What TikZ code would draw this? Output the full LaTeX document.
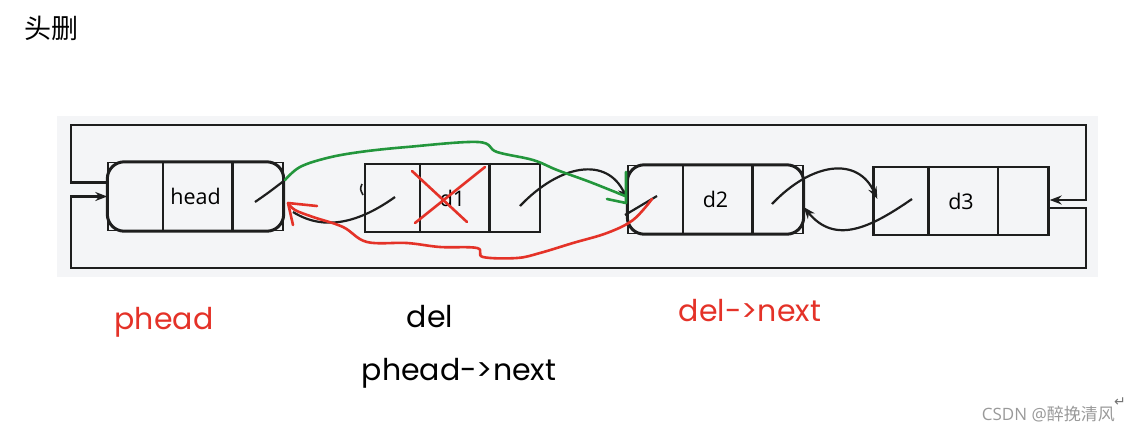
\documentclass[tikz,border=0pt]{standalone}
\usepackage{fontspec}
\setmainfont{Open Sans}
\newfontfamily\geo{Poppins}
\newfontfamily\cjk{Noto Sans CJK SC}
\newfontfamily\dejavu{DejaVu Sans}
\usetikzlibrary{arrows.meta,calc}
\definecolor{panel}{RGB}{244,245,247}
\definecolor{penred}{RGB}{228,50,40}
\definecolor{pengreen}{RGB}{35,150,60}
\definecolor{ink}{RGB}{30,30,30}
\tikzset{
  cellbox/.style={draw=ink, line width=2.4pt, minimum width=175pt, minimum height=68pt, inner sep=0pt, font=\fontsize{21.5}{26}\selectfont},
  thinbox/.style={cellbox, line width=1.4pt},
  link/.style={draw=ink, line width=2.2pt},
  arr/.style={-{Stealth[length=12pt,width=9pt]}},
  redpen/.style={draw=penred, line width=2.6pt, line cap=round, line join=round},
  greenpen/.style={draw=pengreen, line width=2.6pt, line cap=round, line join=round},
  lbl/.style={anchor=base, inner sep=0pt, font=\geo\fontsize{30}{34}\selectfont}
}
\begin{document}
\begin{tikzpicture}[x=1pt,y=-1pt]
\useasboundingbox (0,0) rectangle (1133,432);
\fill[panel] (57,116) rectangle (1098,277);

% title
\node[anchor=base west, inner sep=0pt, font=\cjk\fontsize{27}{32}\selectfont] (title) at (24,38) {头删};

% list nodes
\node[thinbox] (head) at (195.5,196.5) {head};
\node[cellbox] (d1) at (452.5,198) {d1};
\node[thinbox] (d2) at (715.5,199.5) {d2};
\node[cellbox] (d3) at (961,201) {d3};
\draw[line width=3pt, draw=ink, rounded corners=17pt] (head.north west) rectangle (head.south east);
\draw[line width=3pt, draw=ink, rounded corners=17pt] (d2.north west) rectangle (d2.south east);
\foreach \n in {head,d1,d2,d3}{
  \draw[link, line width=2.4pt] ($(\n.north west)!0.317!(\n.north east)$) -- ($(\n.south west)!0.317!(\n.south east)$);
  \draw[link, line width=2.4pt] ($(\n.north west)!0.709!(\n.north east)$) -- ($(\n.south west)!0.709!(\n.south east)$);
}

% frame connectors
\coordinate (tl) at (71,125);
\coordinate (tr) at (1086,125);
\coordinate (bl) at (71,268);
\coordinate (br) at (1086,268);
\draw[link, arr] ($(head.west)+(0,-14)$) -| (tl) -- (tr) |- ($(d3.east)+(0,-1)$);
\draw[link, arr] ($(d3.east)+(0,7)$) -| (br) -- (bl) |- (head.west);

% slash / link curves
\coordinate (hn) at (255,202);
\coordinate (hnend) at (285,180);
\draw[link] (hn) .. controls (268,193) .. (hnend);
\coordinate (d1tick) at (362,184);
\draw[link, line width=1.6pt] (d1tick) .. controls (360,189) .. (363,195);
\coordinate (d1p) at (395,197);
\coordinate (d1pend) at (293,212);
\draw[link] (d1p) .. controls (360,222) and (325,232) .. (d1pend);
\coordinate (d1n) at (520,206);
\draw[link, arr] (d1n) .. controls (560,164) and (607,156) .. (d2.west);
\coordinate (d2p) at (657,196);
\coordinate (d2pend) at (625,215);
\draw[link] (d2p) -- (d2pend);
\coordinate (d2n) at (772,204);
\draw[link, arr] (d2n) .. controls (812,162) and (858,156) .. ($(d3.west)+(5,-2)$);
\coordinate (d3p) at (912,199);
\draw[link, arr] (d3p) .. controls (870,228) and (835,245) .. ($(d2.east)+(0,7.5)$);

% red cross over d1
\draw[redpen] (412,171) -- (467,222);
\draw[redpen] (485,167) -- (415,223);

% green pen: phead->next = del->next
\draw[greenpen] plot[smooth, tension=0.6] coordinates {(285,180) (300,167) (327,158) (360,152) (407,147) (478,142) (497,152) (533,160) (557,170) (590,182) (625,196)};
\draw[greenpen] (626,172) -- (626,203) -- (607,199);

% red pen: del->next->prev = phead
\draw[redpen] plot[smooth, tension=0.6] coordinates {(652,199) (633,220) (607,233) (573,243) (540,253) (517,258) (483,257) (477,248) (440,247) (407,243) (367,242) (343,227) (313,217) (295,210) (288,203)};
\draw[redpen] (317,206) -- (288,203) -- (293,225);

% labels
\node[lbl, text=penred] (lphead) at (164,329) {phead};
\node[lbl, text=black] (ldel) at (430,327) {del};
\node[lbl, text=black] (lpnext) at (459,380) {phead->next};
\node[lbl, text=penred] (ldnext) at (750,321) {del->next};

% watermark credit
\node[anchor=base east, inner sep=0pt, text=black!40, font=\fontsize{17}{20}\selectfont] (credit) at (1115,420) {CSDN @{\cjk 醉挽清风}};
\node[inner sep=0pt, text=black!55, font=\dejavu\fontsize{14}{16}\selectfont] (ret) at (1120,402) {↵};
\end{tikzpicture}
\end{document}
